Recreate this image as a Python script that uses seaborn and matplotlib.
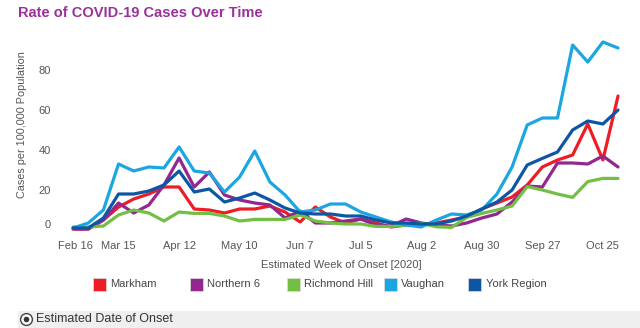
import matplotlib
matplotlib.use("Agg")
import matplotlib.pyplot as plt
from matplotlib.lines import Line2D
from matplotlib.patches import Rectangle
from matplotlib.transforms import ScaledTranslation
import pandas as pd
import seaborn as sns

# Weekly onset rate per 100,000 population, first week ending Feb 23, 2020
first_week = "2020-02-23"
markham = [0.5, 0.5, 5, 11.5, 15.5, 18, 21.5, 21.5, 10.5, 10, 8.5, 10.5, 10.5, 12, 9, 4,
           11.5, 6.5, 3.5, 5.5, 3.5, 1.5, 2.5, 3, 3.5, 5, 6.5, 10.5, 13.5, 16.5, 22.5,
           31.5, 35, 37.5, 53, 35, 67]
northern_6 = [0.5, 0.5, 5, 13.5, 8.5, 12.5, 22.5, 36, 21.5, 29, 17.5, 15, 13.5, 12.5, 6,
              9.5, 3.5, 3.5, 4.5, 5.5, 2.5, 2, 5.5, 3.5, 2.5, 2, 3.5, 6, 8, 14, 22, 21.5,
              33.5, 33.5, 33, 37, 31.5]
richmond_hill = [1.5, 1.5, 2, 7.5, 10, 8.5, 4.5, 9, 8.3, 8.3, 7, 4.5, 5.3, 5.3, 5.3, 7.5,
                 4.5, 3.5, 3, 3, 1.8, 1.8, 2.5, 3.3, 1.6, 1.3, 6.3, 8.3, 10, 12, 21.7, 20,
                 18, 16.3, 24.2, 25.8, 25.8]
vaughan = [1, 3.5, 10, 33, 29.5, 31.5, 31, 41.5, 29.5, 28.5, 19, 26.5, 39.5, 24, 17.5, 9,
           10, 13, 13, 9, 6.5, 4, 2.5, 1.5, 5, 8, 7.5, 10, 18, 31.5, 52.5, 56, 56, 92.5,
           84, 94, 91]
york_region = [1, 1, 6, 18, 18, 19.5, 22.5, 29.5, 19, 20.5, 14, 16, 18.5, 15, 11, 8.5, 8,
               8, 7, 7, 5, 3.5, 3.5, 3, 3, 4.5, 7, 10.5, 14, 20, 32.5, 35.8, 39, 50, 54.5,
               53, 60]

regions = ["Markham", "Northern 6", "Richmond Hill", "Vaughan", "York Region"]
series = [markham, northern_6, richmond_hill, vaughan, york_region]
colors = ["#ee1c25", "#93278f", "#72bf44", "#1ba6e2", "#0d56a3"]

tick_dates = ["2020-02-16", "2020-03-15", "2020-04-12", "2020-05-10", "2020-06-07",
              "2020-07-05", "2020-08-02", "2020-08-30", "2020-09-27", "2020-10-25"]
tick_labels = ["Feb 16", "Mar 15", "Apr 12", "May 10", "Jun 7", "Jul 5", "Aug 2",
               "Aug 30", "Sep 27", "Oct 25"]
y_ticks = [0, 20, 40, 60, 80]

weeks = pd.date_range(first_week, periods=len(markham), freq="7D")
df = pd.concat(
    [pd.DataFrame({"week": weeks, "rate": vals, "region": name})
     for name, vals in zip(regions, series)],
    ignore_index=True,
)

sns.set_theme(style="white")
plt.rcParams["font.family"] = ["Liberation Sans", "DejaVu Sans"]

W, H = 640, 328
ax_w, ax_h = 625.6 - 58, 203
fig = plt.figure(figsize=(W / 100, H / 100), dpi=100)
ax = fig.add_axes([58 / W, 95 / H, ax_w / W, ax_h / H])

sns.lineplot(data=df, x="week", y="rate", hue="region", hue_order=regions,
             palette=dict(zip(regions, colors)), linewidth=2.3, legend=False, ax=ax)

ax.set_xlim(pd.Timestamp("2020-02-16"), pd.Timestamp("2020-11-04 12:00"))
ax.set_ylim(-1.5, 100)
for s in ax.spines.values():
    s.set_visible(False)

ax.set_xticks(pd.to_datetime(tick_dates))
ax.set_xticklabels(tick_labels)
ax.set_yticks(y_ticks)
ax.set_yticklabels([str(v) for v in y_ticks])
ax.tick_params(axis="both", length=0, labelsize=8, colors="#555555")
ax.tick_params(axis="x", pad=6)
ax.tick_params(axis="y", pad=5)
ax.get_xticklabels()[0].set_ha("left")
# lift the zero label clear of the date labels
zero_lbl = ax.get_yticklabels()[0]
zero_lbl.set_transform(zero_lbl.get_transform() + ScaledTranslation(0, 0.06, fig.dpi_scale_trans))

ax.set_xlabel("Estimated Week of Onset [2020]", fontsize=8, color="#555555", labelpad=6)
ax.set_ylabel("Cases per 100,000 Population", fontsize=7.8, color="#555555")
ax.yaxis.set_label_coords(-31 / ax_w, (233 - 125) / ax_h)

fig.text(18 / W, 1 - 13 / H, "Rate of COVID-19 Cases Over Time", fontsize=10.5,
         fontweight="bold", color="#9b309b", ha="left", va="center")

# legend row
swatch_x = [92.6, 189.6, 286.5, 383.9, 468]
for x0, name, col in zip(swatch_x, regions, colors):
    fig.add_artist(Rectangle((x0 / W, 1 - 290.5 / H), 13 / W, 13 / H,
                             transform=fig.transFigure, facecolor=col,
                             edgecolor="#dddddd", linewidth=0.5))
    fig.text((x0 + 17.5) / W, 1 - 284 / H, name, fontsize=8, color="#444444",
             ha="left", va="center")

# selector bar at the bottom
fig.add_artist(Rectangle((18 / W, 0), (W - 18) / W, 17 / H, transform=fig.transFigure,
                         facecolor="#efefef", edgecolor="none"))
fig.add_artist(Line2D([26 / W], [1 - 319 / H], marker="o", markersize=8.5,
                      markerfacecolor="white", markeredgecolor="#444444",
                      markeredgewidth=1.0, transform=fig.transFigure))
fig.add_artist(Line2D([26 / W], [1 - 319 / H], marker="o", markersize=4,
                      markerfacecolor="#333333", markeredgecolor="none",
                      transform=fig.transFigure))
fig.text(36 / W, 1 - 319 / H, "Estimated Date of Onset", fontsize=9, color="#333333",
         ha="left", va="center")

fig.savefig("out.png", dpi=100, facecolor="white")
